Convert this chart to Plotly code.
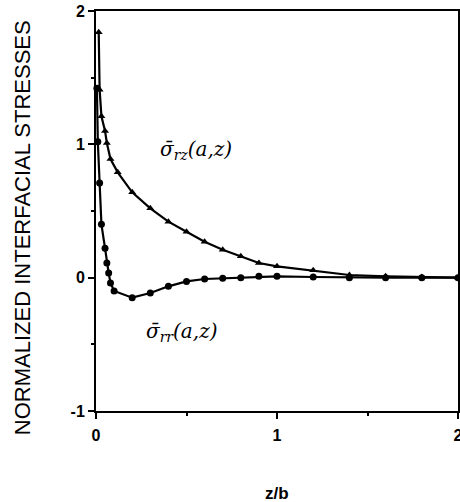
import plotly.graph_objects as go

# sigma_rz (triangles)
z_rz = [0.015, 0.02, 0.03, 0.05, 0.06, 0.08, 0.12, 0.2, 0.3, 0.4, 0.5, 0.6, 0.7, 0.8, 0.9, 1.0, 1.2, 1.4, 1.6, 1.8, 2.0]
s_rz = [1.84, 1.41, 1.21, 1.10, 1.01, 0.89, 0.79, 0.64, 0.52, 0.42, 0.345, 0.27, 0.21, 0.16, 0.11, 0.085, 0.055, 0.02, 0.01, 0.005, 0.0]

# sigma_rr (circles)
z_rr = [0.005, 0.01, 0.02, 0.03, 0.05, 0.06, 0.07, 0.08, 0.1, 0.2, 0.3, 0.4, 0.5, 0.6, 0.7, 0.8, 0.9, 1.0, 1.2, 1.4, 1.6, 1.8, 2.0]
s_rr = [1.42, 1.02, 0.71, 0.40, 0.22, 0.11, 0.035, -0.04, -0.10, -0.15, -0.115, -0.065, -0.028, -0.01, -0.005, 0.0, 0.01, 0.01, 0.005, 0.0, 0.0, 0.0, 0.0]

x_ticks = [0, 1, 2]
y_ticks = [-1, 0, 1, 2]

fig = go.Figure()
fig.add_trace(go.Scatter(x=z_rz, y=s_rz, mode="lines+markers",
                         line=dict(color="black", width=2.2),
                         marker=dict(symbol="triangle-up", size=7, color="black"),
                         showlegend=False, cliponaxis=False))
fig.add_trace(go.Scatter(x=z_rr, y=s_rr, mode="lines+markers",
                         line=dict(color="black", width=2.2),
                         marker=dict(symbol="circle", size=7, color="black"),
                         showlegend=False, cliponaxis=False))

serif = dict(family="DejaVu Serif", size=20, color="black")
sig = '<span style="font-family:DejaVu Serif">σ̄</span>'
fig.add_annotation(x=0.55, y=0.96, xref="x", yref="y", showarrow=False,
                   text="<i>" + sig + "</i><sub><i>rz</i></sub><i>(a,z)</i>", font=serif)
fig.add_annotation(x=0.47, y=-0.41, xref="x", yref="y", showarrow=False,
                   text="<i>" + sig + "</i><sub><i>rr</i></sub><i>(a,z)</i>", font=serif)

# axis titles
fig.add_annotation(x=-0.204, y=0.4575, xref="paper", yref="paper", showarrow=False,
                   text="NORMALIZED INTERFACIAL STRESSES", textangle=-90,
                   xanchor="center", yanchor="middle",
                   font=dict(family="Liberation Sans", size=22, color="black"))
fig.add_annotation(x=0.5, y=-0.205, xref="paper", yref="paper", showarrow=False,
                   text="<b>z/b</b>", xanchor="center", yanchor="middle",
                   font=dict(family="Liberation Sans", size=17, color="black"))

axis_common = dict(showgrid=False, zeroline=False, showline=True, linecolor="black",
                   linewidth=2, mirror=True, ticks="outside", ticklen=6, tickwidth=2,
                   tickcolor="black", automargin=False, ticklabeloverflow="allow",
                   tickfont=dict(family="Liberation Sans", size=16, color="black", weight="bold"),
                   minor=dict(ticks="outside", ticklen=3, tickwidth=1.5, tickcolor="black"))

fig.update_xaxes(range=[0, 2], tickvals=x_ticks, ticktext=[str(v) for v in x_ticks],
                 minor_dtick=0.5, ticklabelstandoff=3, **axis_common)
fig.update_yaxes(range=[-1, 2], tickvals=y_ticks, ticktext=[str(v) for v in y_ticks],
                 minor_dtick=0.5, **axis_common)

fig.update_layout(width=460, height=502, plot_bgcolor="white", paper_bgcolor="white",
                  margin=dict(l=96, r=2, t=11, b=91))

fig.write_html("out.html", config={"displayModeBar": False},
               post_script="document.body.style.margin='0';document.body.style.overflow='hidden';")
